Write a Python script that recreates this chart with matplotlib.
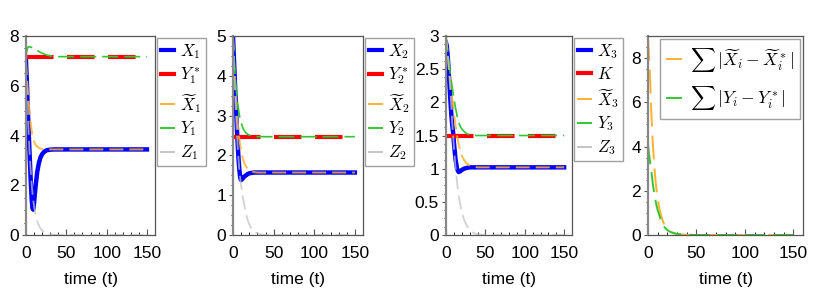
import matplotlib
matplotlib.use("Agg")
import matplotlib.pyplot as plt
from matplotlib.ticker import MultipleLocator, FixedLocator, FixedFormatter

plt.rcParams['font.family'] = ['Liberation Sans', 'DejaVu Sans']
plt.rcParams['mathtext.fontset'] = 'cm'

# ---------------- data ----------------
t = [0, 1, 2, 3, 4, 5, 6, 7, 8, 9, 10, 12, 14, 16, 18, 20, 23, 26, 30, 35, 40, 50, 150]
t_const = [0, 150]

# panel 1
X1 = [7.0, 6.2, 5.3, 4.4, 3.6, 2.85, 2.1, 1.45, 1.08, 1.02, 1.3, 2.0, 2.55, 2.9, 3.12, 3.25, 3.36, 3.41, 3.43, 3.44, 3.44, 3.44, 3.44]
Y1s = [7.17, 7.17]
Xt1 = [7.0, 6.4, 5.9, 5.5, 5.1, 4.75, 4.45, 4.2, 4.0, 3.85, 3.75, 3.62, 3.55, 3.5, 3.48, 3.46, 3.45, 3.44, 3.44, 3.44, 3.44, 3.44, 3.44]
Y1 = [7.1, 7.4, 7.52, 7.57, 7.57, 7.56, 7.55, 7.54, 7.52, 7.51, 7.5, 7.46, 7.42, 7.38, 7.34, 7.31, 7.27, 7.23, 7.2, 7.18, 7.17, 7.17, 7.17]
Z1 = [7.0, 6.0, 5.1, 4.3, 3.6, 3.0, 2.5, 2.05, 1.7, 1.4, 1.15, 0.8, 0.55, 0.38, 0.26, 0.18, 0.1, 0.06, 0.03, 0.01, 0.0, 0.0, 0.0]

# panel 2
X2 = [5.0, 4.5, 4.0, 3.5, 3.05, 2.6, 2.2, 1.85, 1.6, 1.43, 1.38, 1.42, 1.47, 1.5, 1.53, 1.55, 1.56, 1.57, 1.57, 1.57, 1.57, 1.57, 1.57]
Y2s = [2.47, 2.47]
Xt2 = [5.0, 4.5, 4.05, 3.65, 3.3, 3.0, 2.75, 2.55, 2.38, 2.23, 2.1, 1.92, 1.8, 1.72, 1.66, 1.63, 1.6, 1.58, 1.57, 1.57, 1.57, 1.57, 1.57]
Y2 = [5.0, 4.55, 4.2, 3.9, 3.65, 3.45, 3.28, 3.13, 3.0, 2.9, 2.82, 2.7, 2.62, 2.56, 2.53, 2.51, 2.49, 2.48, 2.47, 2.47, 2.47, 2.47, 2.47]
Z2 = [5.0, 4.4, 3.85, 3.35, 2.9, 2.5, 2.15, 1.85, 1.6, 1.4, 1.25, 0.95, 0.75, 0.55, 0.38, 0.27, 0.15, 0.08, 0.04, 0.01, 0.0, 0.0, 0.0]

# panel 3
X3 = [2.9, 2.85, 2.72, 2.55, 2.35, 2.15, 1.95, 1.78, 1.65, 1.55, 1.4, 1.15, 1.0, 0.95, 0.96, 0.98, 1.0, 1.01, 1.02, 1.02, 1.02, 1.02, 1.02]
K = [1.5, 1.5]
Xt3 = [3.0, 2.85, 2.72, 2.6, 2.48, 2.37, 2.26, 2.15, 2.05, 1.95, 1.85, 1.66, 1.5, 1.37, 1.27, 1.2, 1.13, 1.08, 1.05, 1.03, 1.02, 1.02, 1.02]
Y3 = [3.0, 2.88, 2.78, 2.68, 2.58, 2.48, 2.39, 2.3, 2.22, 2.14, 2.06, 1.92, 1.8, 1.71, 1.64, 1.6, 1.56, 1.53, 1.51, 1.5, 1.5, 1.5, 1.5]
Z3 = [3.0, 2.9, 2.78, 2.62, 2.45, 2.27, 2.08, 1.88, 1.68, 1.5, 1.33, 1.03, 0.8, 0.61, 0.46, 0.35, 0.23, 0.15, 0.08, 0.03, 0.01, 0.0, 0.0]

# panel 4
sumX = [8.97, 8.1, 7.3, 6.0, 5.0, 4.1, 3.45, 2.85, 2.35, 1.95, 1.65, 1.15, 0.8, 0.55, 0.37, 0.26, 0.15, 0.09, 0.04, 0.02, 0.01, 0.0, 0.0]
sumY = [4.1, 3.7, 3.35, 3.0, 2.7, 2.3, 2.0, 1.75, 1.5, 1.3, 1.12, 0.85, 0.6, 0.42, 0.3, 0.22, 0.14, 0.09, 0.05, 0.02, 0.01, 0.0, 0.0]

labels = [
    [r'$X_1$', r'$Y_1^*$', r'$\widetilde{X}_1$', r'$Y_1$', r'$Z_1$'],
    [r'$X_2$', r'$Y_2^*$', r'$\widetilde{X}_2$', r'$Y_2$', r'$Z_2$'],
    [r'$X_3$', r'$K$', r'$\widetilde{X}_3$', r'$Y_3$', r'$Z_3$'],
]
sum_labels = [r'$\sum\,|\widetilde{X}_i-\widetilde{X}_i^*|$', r'$\sum\,|Y_i-Y_i^*|$']

ylims = [(0, 8), (0, 5), (0, 3), (0, 9)]
yticks = [[0, 2, 4, 6, 8], [0, 1, 2, 3, 4, 5], [0, 0.5, 1, 1.5, 2, 2.5, 3], [0, 2, 4, 6, 8]]
yticklabels = [['0', '2', '4', '6', '8'], ['0', '1', '2', '3', '4', '5'],
               ['0', '0.5', '1', '1.5', '2', '2.5', '3'], ['0', '2', '4', '6', '8']]
xticks = [0, 50, 100, 150]

# ---------------- style ----------------
W, H = 830, 291
DPI = 100
BLUE = '#0000FF'
RED = '#FF0000'
ORANGE = '#FFB030'
GREEN = '#30C830'
GRAY = '#C4C4C4'

def dash(on_px, off_px, lw_pt):
    lw_px = lw_pt * DPI / 72.0
    return (0, (on_px / lw_px, off_px / lw_px))

fig = plt.figure(figsize=(W / DPI, H / DPI), dpi=DPI)

panels_px = [(26, 155), (233, 363), (446, 572), (648, 803)]
top_px, bot_px = 36, 235

def make_ax(i):
    l, r = panels_px[i]
    ax = fig.add_axes([l / W, 1 - bot_px / H, (r - l) / W, (bot_px - top_px) / H])
    ax.set_xlim(0, 160)
    ax.set_ylim(*ylims[i])
    ax.xaxis.set_major_locator(FixedLocator(xticks))
    ax.xaxis.set_minor_locator(MultipleLocator(10))
    ax.yaxis.set_major_locator(FixedLocator(yticks[i]))
    ax.yaxis.set_major_formatter(FixedFormatter(yticklabels[i]))
    ax.yaxis.set_minor_locator(MultipleLocator((yticks[i][1] - yticks[i][0]) / 4))
    ax.tick_params(axis='both', labelsize=12.5, colors='#555555', labelcolor='black')
    ax.tick_params(axis='x', which='major', direction='in', length=4, pad=8)
    ax.tick_params(axis='x', which='minor', direction='in', length=2.5)
    ax.tick_params(axis='y', which='major', direction='out', length=3, pad=2)
    ax.tick_params(axis='y', which='minor', direction='out', length=1.5)
    ax.tick_params(top=False, right=False)
    for s in ['top', 'right']:
        ax.spines[s].set_color('#555555')
        ax.spines[s].set_linewidth(0.9)
    ax.spines['left'].set_color('#888888')
    ax.spines['left'].set_linewidth(1.6)
    ax.spines['bottom'].set_color('#555555')
    ax.spines['bottom'].set_linewidth(0.9)
    ax.set_xlabel('time (t)', fontsize=12.5, labelpad=8)
    return ax

series = [(X1, Y1s, Xt1, Y1, Z1), (X2, Y2s, Xt2, Y2, Z2), (X3, K, Xt3, Y3, Z3)]
for i, (X, Ys, Xt, Y, Z) in enumerate(series):
    ax = make_ax(i)
    ax.plot(t, X, color=BLUE, lw=3.2, solid_joinstyle='round')
    ax.plot(t_const, Ys, color=RED, lw=3.0, linestyle=dash(27.5, 13.5, 3.0))
    ax.plot(t, Xt, color=ORANGE, lw=1.4, alpha=0.85, linestyle=dash(14, 6, 1.4))
    ax.plot(t, Y, color=GREEN, lw=1.2, linestyle=dash(16, 6, 1.2))
    ax.plot(t, Z, color=GRAY, lw=1.3, alpha=0.75, linestyle=dash(14, 6, 1.3))
    leg_handles = [
        plt.Line2D([], [], color=BLUE, lw=3.0),
        plt.Line2D([], [], color=RED, lw=3.0),
        plt.Line2D([], [], color=ORANGE, lw=1.4),
        plt.Line2D([], [], color=GREEN, lw=1.4),
        plt.Line2D([], [], color=GRAY, lw=1.4),
    ]
    leg = ax.legend(leg_handles, labels[i], loc='upper left', bbox_to_anchor=(1.0, 1.0),
                    borderaxespad=0.1, fontsize=12, frameon=True, fancybox=False,
                    edgecolor='#888888', handlelength=0.8, handletextpad=0.35,
                    labelspacing=0.3, borderpad=0.25)
    leg.get_frame().set_linewidth(1.0)

ax = make_ax(3)
ax.plot(t, sumX, color=ORANGE, lw=1.4, linestyle=dash(24, 9, 1.4))
ax.plot(t, sumY, color=GREEN, lw=1.4, linestyle=dash(20, 8, 1.4))
leg_handles = [plt.Line2D([], [], color=ORANGE, lw=1.4), plt.Line2D([], [], color=GREEN, lw=1.4)]
leg = ax.legend(leg_handles, sum_labels, loc='upper right', borderaxespad=0.15, fontsize=12.5,
                frameon=True, fancybox=False, edgecolor='#888888', handlelength=0.8,
                handletextpad=0.5, labelspacing=0.6, borderpad=0.4)
leg.get_frame().set_linewidth(1.0)

fig.savefig('out.png', dpi=DPI)
